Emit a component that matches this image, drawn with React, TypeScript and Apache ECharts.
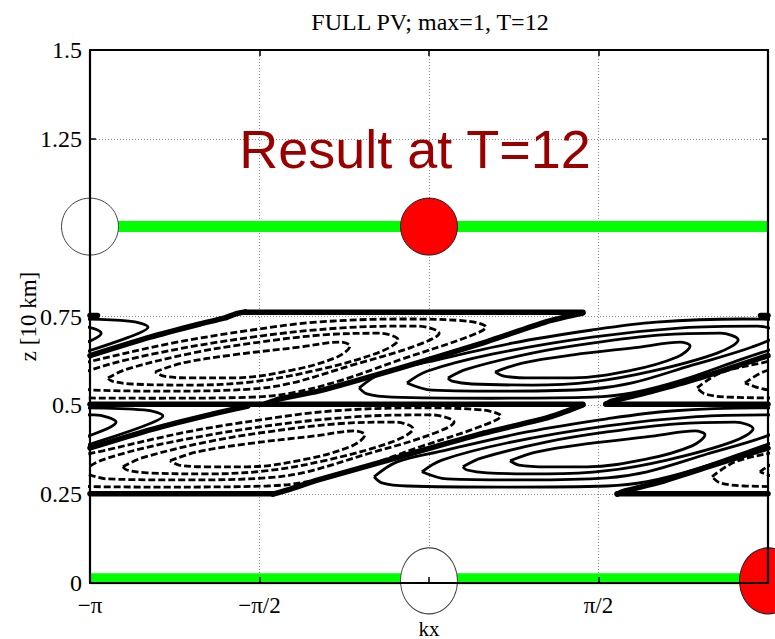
import React, { useEffect, useRef } from 'react';
import * as echarts from 'echarts';

// x in units of pi, z in units of 10 km
const xTickValues = [-1, -0.5, 0, 0.5, 1];
const xTickLabels = ['−π', '−π/2', '0', 'π/2', 'π'];
const zTicks = [0, 0.25, 0.5, 0.75, 1.25, 1.5];

const greenLevels = [1.003, 0.012];
const redCircleTop = [[0, 1.003]];
const whiteCircleTop = [[-1, 1.003]];
const redCircleBottom = [[1, 0.006]];
const whiteCircleBottom = [[0, 0.006]];

// contour loop shapes: offsets [dx (pi units), dz] from a loop-family centre
const loop1 = [[-0.286,-0.025],[-0.206,0],[-0.056,0.023],[0.142,0.045],[0.260,0.059],[0.289,0.048],[0.251,0.017],[0.118,-0.020],[-0.059,-0.042],[-0.177,-0.042],[-0.260,-0.037]];
const loop2 = [[-0.425,-0.042],[-0.369,-0.017],[-0.177,0.028],[0,0.056],[0.206,0.079],[0.378,0.084],[0.431,0.065],[0.369,0.028],[0.177,-0.023],[0,-0.053],[-0.177,-0.062],[-0.354,-0.059],[-0.413,-0.051]];
const loop3 = [[-0.546,-0.056],[-0.487,-0.023],[-0.295,0.025],[0,0.073],[0.265,0.099],[0.487,0.104],[0.552,0.084],[0.472,0.045],[0.295,-0.006],[0.118,-0.056],[0,-0.073],[-0.236,-0.079],[-0.472,-0.076]];
const loop4 = [[-0.687,-0.070],[-0.619,-0.028],[-0.484,0.003],[-0.236,0.056],[0,0.093],[0.189,0.115],[0.442,0.124],[0.634,0.118],[0.690,0.101],[0.634,0.073],[0.442,0.011],[0.265,-0.048],[0.118,-0.084],[0,-0.096],[-0.295,-0.099],[-0.590,-0.096],[-0.664,-0.087]];
const loopShapes = [loop1, loop2, loop3, loop4];

// centres of negative (dashed) and positive (solid) loop families
const negCentres = [[-0.522, 0.619], [-0.478, 0.369]];
const posCentres = [[0.481, 0.619], [0.525, 0.369]];

// zero contours (thick)
const zeroUpper1 = [[-0.484,0.504],[-0.440,0.518],[-0.327,0.540],[-0.086,0.605],[0.150,0.673],[0.345,0.735],[0.416,0.752],[0.454,0.760]];
const zeroUpper2a = [[0.522,0.504],[0.540,0.512],[0.652,0.538],[0.799,0.577],[1,0.640]];
const zeroUpper2b = [[-1,0.640],[-0.823,0.692],[-0.676,0.729],[-0.602,0.746],[-0.572,0.757],[-0.543,0.763]];
const zeroLower1 = [[-0.460,0.250],[-0.416,0.262],[-0.327,0.290],[-0.086,0.355],[0.150,0.419],[0.345,0.464],[0.416,0.487],[0.454,0.501]];
const zeroLower2a = [[0.555,0.250],[0.578,0.259],[0.681,0.284],[0.829,0.329],[1,0.380]];
const zeroLower2b = [[-1,0.380],[-0.823,0.431],[-0.676,0.467],[-0.572,0.490],[-0.534,0.498]];
const zeroTop = [[-0.543,0.762],[0.454,0.762]];
const zeroTopEdgeL = [[-1,0.753],[-0.978,0.753]];
const zeroTopEdgeR = [[0.978,0.753],[1,0.753]];
const zeroMidA = [[-1,0.503],[0.454,0.503]];
const zeroMidB = [[0.522,0.503],[1,0.503]];
const zeroBottomA = [[-1,0.251],[-0.460,0.251]];
const zeroBottomB = [[0.555,0.251],[1,0.251]];
const zeroLines = [zeroUpper1, zeroUpper2a, zeroUpper2b, zeroLower1, zeroLower2a, zeroLower2b, zeroTop, zeroTopEdgeL, zeroTopEdgeR, zeroMidA, zeroMidB, zeroBottomA, zeroBottomB];

const SERIF = '"Liberation Serif", "Times New Roman", serif';

export default function App() {
  const ref = useRef<HTMLDivElement>(null);
  useEffect(() => {
    const chart = echarts.init(ref.current!, null, { renderer: 'svg' });
    const series: any[] = [];

    const addLoops = (centres: number[][], dashed: boolean) => {
      centres.forEach(([cx, cz]) => {
        loopShapes.forEach((shape) => {
          [-2, 0, 2].forEach((shift) => {
            const pts = shape.map(([dx, dz]) => [cx + dx + shift, cz + dz]);
            const xs = pts.map((p) => p[0]);
            if (Math.max(...xs) < -1 || Math.min(...xs) > 1) return;
            series.push({
              type: 'line', data: [...pts, pts[0]], smooth: 0.35, showSymbol: false, symbol: 'none',
              silent: true, clip: true, z: 3,
              lineStyle: { color: '#000', width: 2.8, type: dashed ? [7, 3] : 'solid' },
            });
          });
        });
      });
    };
    addLoops(negCentres, true);
    addLoops(posCentres, false);

    zeroLines.forEach((pts) => {
      series.push({
        type: 'line', data: pts, smooth: 0.2, showSymbol: false, symbol: 'none', silent: true, clip: true, z: 3,
        lineStyle: { color: '#000', width: 5.5, cap: 'round', join: 'round' },
      });
    });

    greenLevels.forEach((lv) => {
      series.push({
        type: 'line', data: [[-1, lv], [1, lv]], showSymbol: false, symbol: 'none', silent: true, z: 4,
        lineStyle: { color: '#00ff00', width: 11 },
      });
    });

    const circle = (data: number[][], color: string, border: string, size: number[]) => ({
      type: 'scatter', data, symbol: 'circle', symbolSize: size, clip: false, silent: true, z: 5,
      itemStyle: { color, borderColor: border, borderWidth: 1, opacity: 1 },
    });
    series.push(circle(whiteCircleTop, '#ffffff', '#444', [57, 57]));
    series.push(circle(redCircleTop, '#ff0000', '#222', [57, 57]));
    series.push(circle(whiteCircleBottom, '#ffffff', '#444', [57, 66]));
    series.push(circle(redCircleBottom, '#ff0000', '#222', [57, 66]));

    const frameX = (position: string) => ({
      type: 'value', min: -1, max: 1, interval: 0.5, position, z: 10,
      axisLine: { show: true, onZero: false, lineStyle: { color: '#000', width: 2.2 } },
      axisTick: { show: true, inside: true, length: 6, lineStyle: { color: '#000', width: 1.5 } },
      axisLabel: { show: false }, splitLine: { show: false },
    });
    const frameY = (position: string) => ({
      type: 'value', min: 0, max: 1.5, interval: 0.25, position, z: 10,
      axisLine: { show: true, onZero: false, lineStyle: { color: '#000', width: 2.2 } },
      axisTick: { show: true, inside: true, length: 6, customValues: zTicks, lineStyle: { color: '#000', width: 1.5 } },
      axisLabel: { show: false }, splitLine: { show: false },
    });

    chart.setOption({
      animation: false,
      backgroundColor: '#ffffff',
      grid: { left: 90, right: 7, top: 50, bottom: 56, outerBoundsMode: 'none', containLabel: false },
      xAxis: [
        {
          type: 'value', min: -1, max: 1, interval: 0.5, position: 'bottom', z: 0,
          axisLine: { show: false }, axisTick: { show: false },
          axisLabel: {
            margin: 11, color: '#000', fontFamily: SERIF, fontSize: 23,
            formatter: (v: number) => { const i = xTickValues.findIndex((t) => Math.abs(t - v) < 1e-6); return i >= 0 ? xTickLabels[i] : ''; },
          },
          splitLine: { show: true, lineStyle: { color: '#888', width: 1, type: [1, 2] } },
          name: 'kx', nameLocation: 'middle', nameGap: 35, nameMoveOverlap: false,
          nameTextStyle: { color: '#000', fontFamily: SERIF, fontSize: 21 },
        },
        frameX('bottom'),
        frameX('top'),
      ],
      yAxis: [
        {
          type: 'value', min: 0, max: 1.5, interval: 0.25, position: 'left', z: 0,
          axisLine: { show: false }, axisTick: { show: false },
          axisLabel: {
            margin: 8, color: '#000', fontFamily: SERIF, fontSize: 24,
            formatter: (v: number) => (zTicks.some((t) => Math.abs(t - v) < 1e-6) ? String(v) : ''),
          },
          splitLine: { show: true, lineStyle: { color: '#888', width: 1, type: [1, 2] } },
          name: 'z [10 km]', nameLocation: 'middle', nameGap: 50, nameRotate: 90, nameMoveOverlap: false,
          nameTextStyle: { color: '#000', fontFamily: SERIF, fontSize: 23 },
        },
        frameY('left'),
        frameY('right'),
      ],
      graphic: [
        {
          type: 'text', x: 430, y: 22, z: 20,
          style: { text: 'FULL PV; max=1, T=12', font: '24px "Liberation Serif"', fill: '#000', textAlign: 'center', textVerticalAlign: 'middle' },
        },
        {
          type: 'text', x: 415, y: 149, z: 20,
          style: { text: 'Result at T=12', font: '54px "Liberation Sans"', fill: '#990000', textAlign: 'center', textVerticalAlign: 'middle' },
        },
      ],
      series,
    });
    return () => chart.dispose();
  }, []);
  return <div ref={ref} style={{ position: 'fixed', left: 0, top: 0, width: 775, height: 639, background: '#fff' }} />;
}
